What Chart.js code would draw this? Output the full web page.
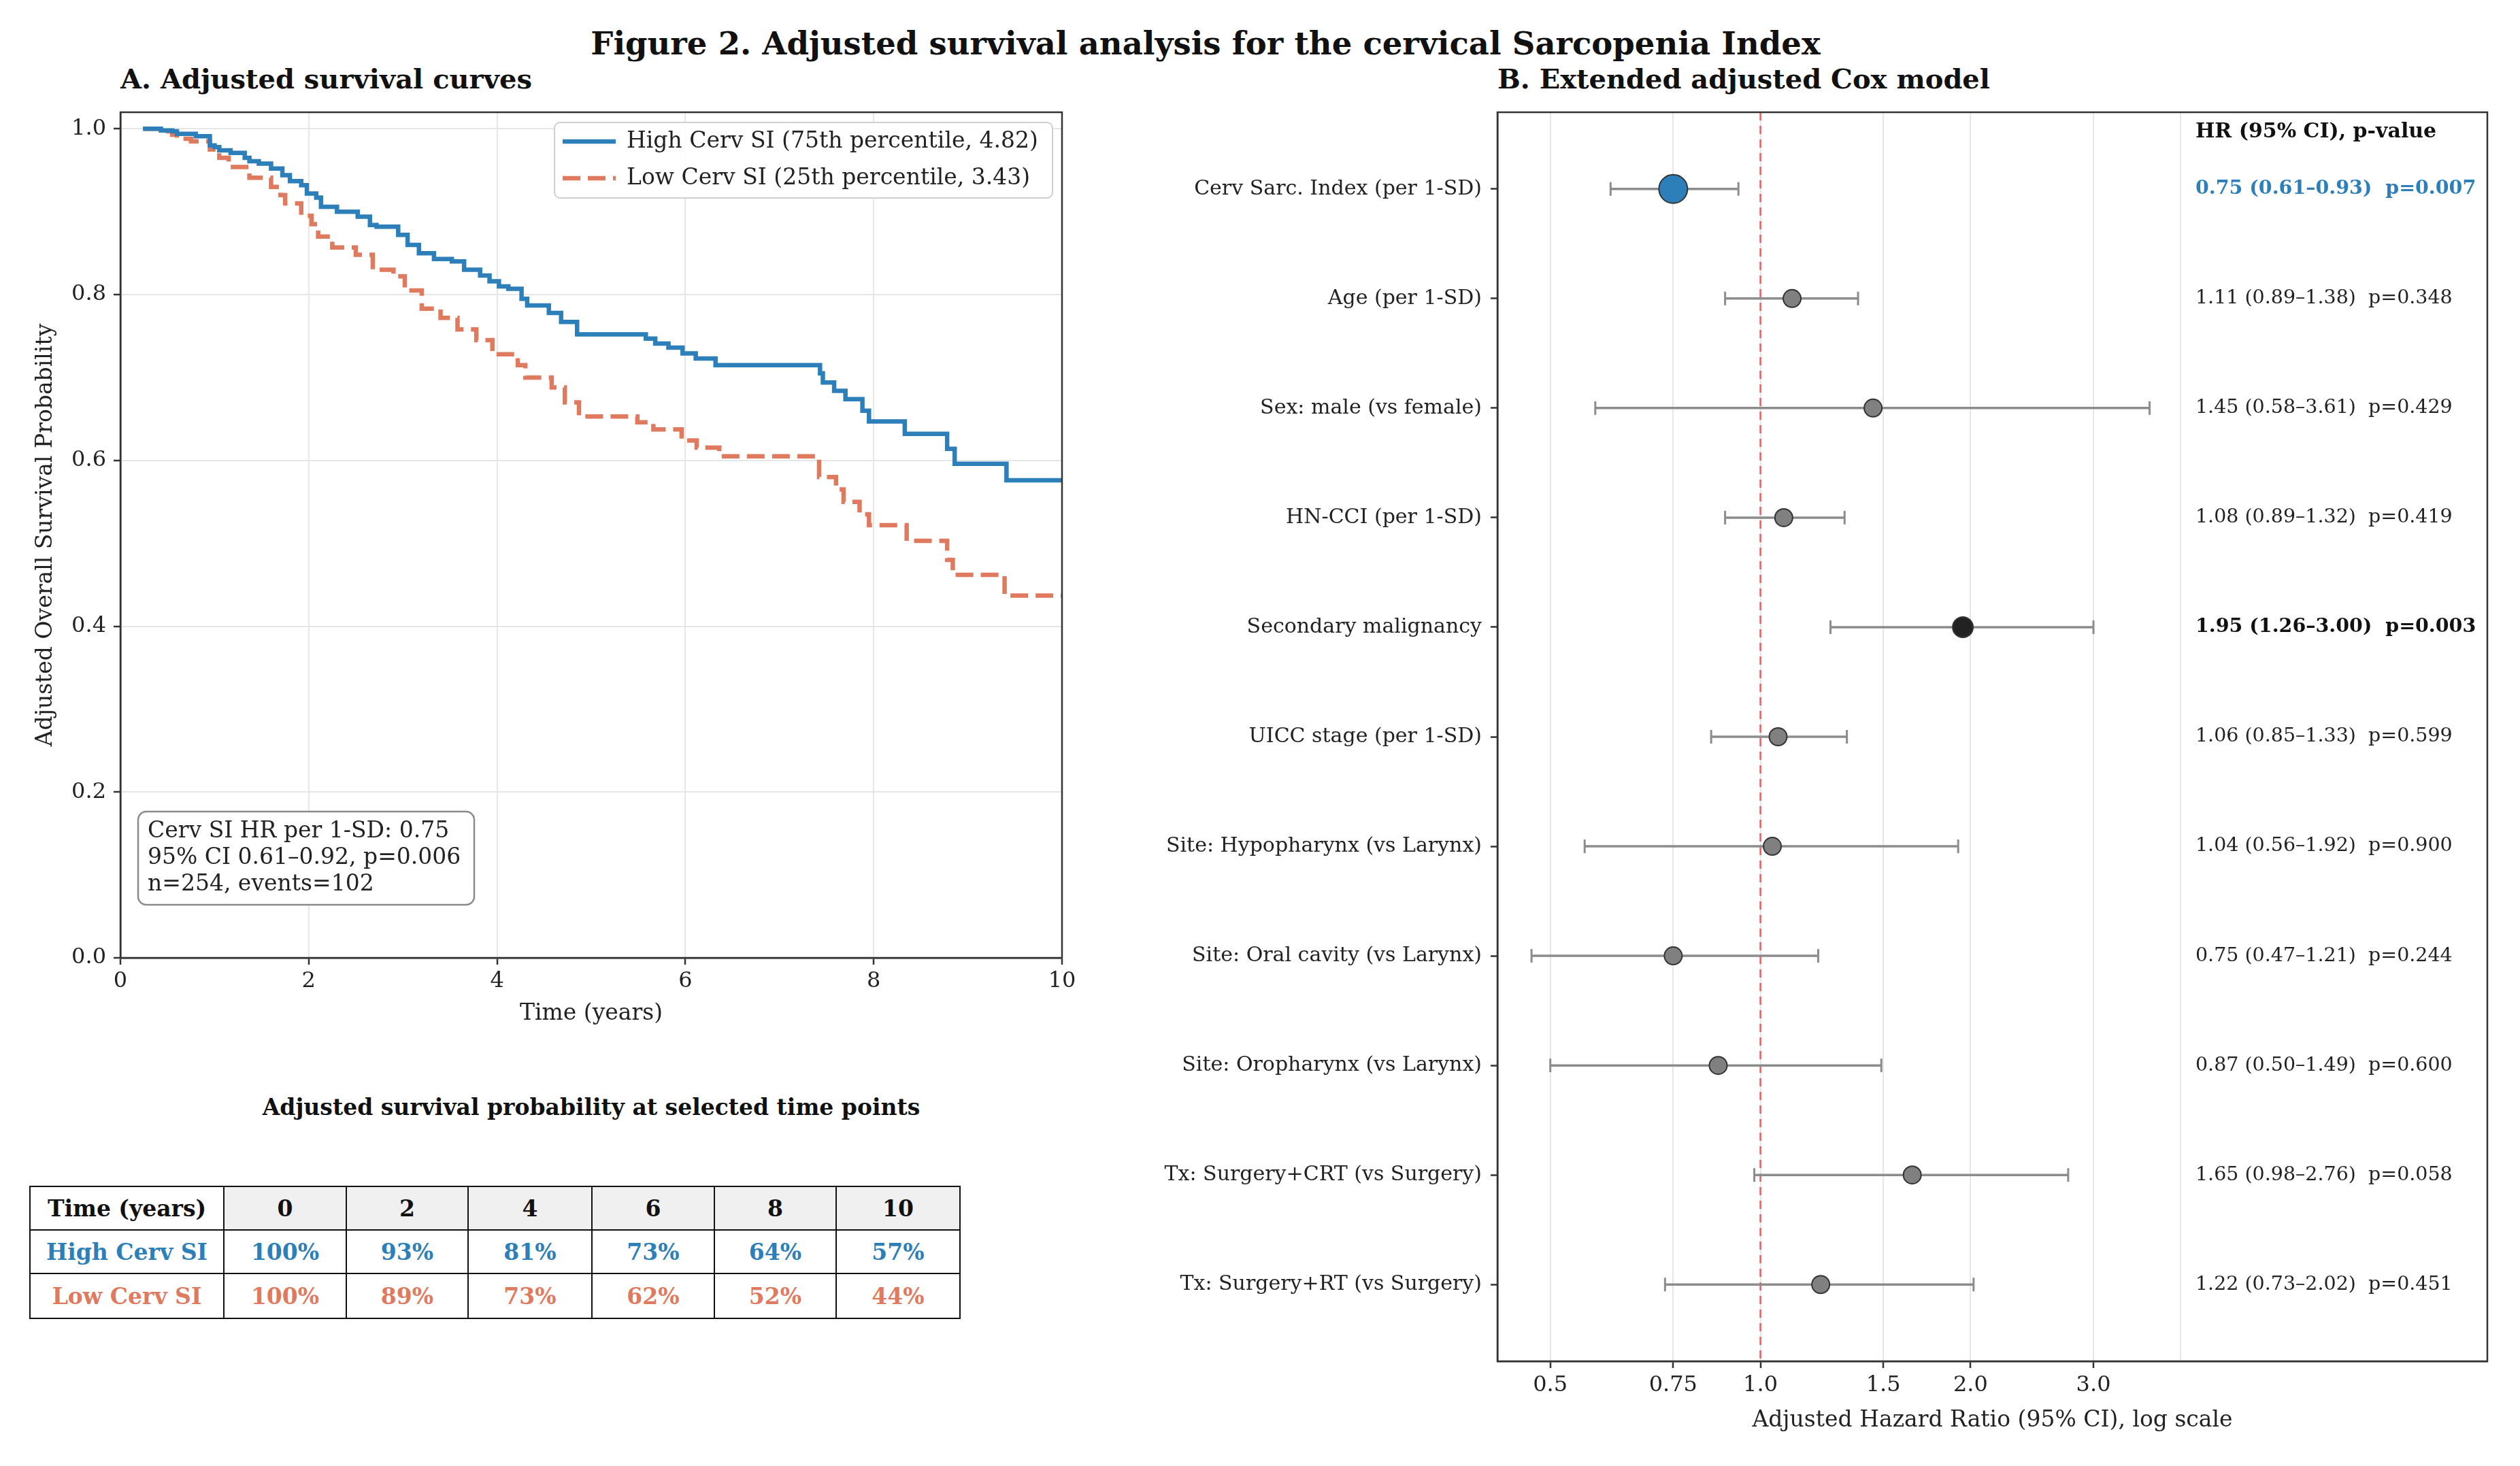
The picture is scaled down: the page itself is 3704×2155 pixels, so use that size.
<!DOCTYPE html>
<html>
<head>
<meta charset="utf-8">
<title>Figure 2</title>
<script src="https://cdn.jsdelivr.net/npm/chart.js@4.4.1/dist/chart.umd.min.js"></script>
<style>
  body { margin: 0; background: #fff; }
  #page { position: relative; width: 3704px; height: 2155px; overflow: hidden; background: #fff;
          font-family: 'DejaVu Serif', serif; color: #111; }
  .txt { position: absolute; white-space: nowrap; font-weight: bold; line-height: 1; }
  #figTitle { left: 1772px; top: 64px; font-size: 46.5px; transform: translate(-50%, -50%); }
  #titleA { left: 177px; top: 116px; font-size: 40px; transform: translateY(-50%); }
  #titleB { left: 2201px; top: 116px; font-size: 40px; transform: translateY(-50%); }
  #tableTitle { left: 869px; top: 1627px; font-size: 33px; transform: translate(-50%, -50%); }
  canvas { position: absolute; }
  #kmChart { left: 0; top: 130px; }
  #coxChart { left: 1640px; top: 130px; }
  #survTable { position: absolute; left: 43px; top: 1743px; border-collapse: collapse; table-layout: fixed;
               width: 1367px; font-family: 'DejaVu Serif', serif; font-weight: bold; font-size: 33px; }
  #survTable td { border: 2.5px solid #111; text-align: center; padding: 0; overflow: hidden; white-space: nowrap; }
  #survTable tr.head td { background: #f0f0f0; color: #111; }
  #survTable tr.head td:first-child { background: #fff; }
</style>
</head>
<body>
<div id="page">
  <div class="txt" id="figTitle">Figure 2. Adjusted survival analysis for the cervical Sarcopenia Index</div>
  <div class="txt" id="titleA">A. Adjusted survival curves</div>
  <div class="txt" id="titleB">B. Extended adjusted Cox model</div>
  <canvas id="kmChart" width="1600" height="1390"></canvas>
  <canvas id="coxChart" width="2064" height="2025"></canvas>
  <div class="txt" id="tableTitle">Adjusted survival probability at selected time points</div>
  <table id="survTable"></table>
</div>
<script>
// Panel A: adjusted survival step curves (time in years, survival probability)
var highLabel = 'High Cerv SI (75th percentile, 4.82)';
var highTimes = [0.24, 0.43, 0.55, 0.60, 0.80, 0.95, 1.00, 1.05, 1.17, 1.32, 1.37, 1.47, 1.60, 1.72, 1.80,
  1.92, 1.98, 2.08, 2.13, 2.30, 2.52, 2.65, 2.72, 2.95, 3.05, 3.17, 3.33, 3.52, 3.65, 3.82,
  3.92, 4.02, 4.12, 4.26, 4.32, 4.55, 4.68, 4.85, 5.58, 5.68, 5.82, 5.97, 6.11, 6.32, 7.43,
  7.46, 7.58, 7.70, 7.88, 7.95, 8.33, 8.78, 8.86, 9.41, 10.0];
var highSurv = [1.0, 0.998, 0.997, 0.994, 0.991, 0.980, 0.978, 0.974, 0.971, 0.965, 0.961, 0.958, 0.952, 0.944, 0.937,
  0.932, 0.922, 0.917, 0.906, 0.900, 0.894, 0.884, 0.882, 0.872, 0.860, 0.850, 0.843, 0.840, 0.830, 0.823,
  0.816, 0.810, 0.807, 0.795, 0.787, 0.778, 0.767, 0.752, 0.747, 0.741, 0.736, 0.729, 0.723, 0.715, 0.705,
  0.694, 0.684, 0.674, 0.660, 0.647, 0.632, 0.614, 0.596, 0.576, 0.576];

var lowLabel = 'Low Cerv SI (25th percentile, 3.43)';
var lowTimes = [0.24, 0.43, 0.55, 0.60, 0.75, 0.95, 1.05, 1.15, 1.37, 1.60, 1.70, 1.75, 1.92, 2.03, 2.10,
  2.25, 2.50, 2.68, 2.90, 3.02, 3.20, 3.40, 3.58, 3.78, 3.95, 4.22, 4.30, 4.58, 4.72, 4.87,
  5.49, 5.66, 5.96, 6.12, 6.36, 7.42, 7.60, 7.68, 7.85, 7.95, 8.35, 8.78, 8.84, 9.39, 10.0];
var lowSurv = [1.0, 0.997, 0.993, 0.988, 0.985, 0.975, 0.965, 0.954, 0.941, 0.930, 0.920, 0.910, 0.895, 0.885, 0.870,
  0.857, 0.848, 0.830, 0.822, 0.805, 0.783, 0.772, 0.758, 0.745, 0.728, 0.715, 0.700, 0.688, 0.670, 0.653,
  0.646, 0.6375, 0.624, 0.6155, 0.605, 0.580, 0.565, 0.550, 0.535, 0.522, 0.503, 0.480, 0.462, 0.437, 0.437];

var survTicks = [0.0, 0.2, 0.4, 0.6, 0.8, 1.0];
var annotationLines = ['Cerv SI HR per 1-SD: 0.75', '95% CI 0.61\u20130.92, p=0.006', 'n=254, events=102'];

// Table under panel A
var tableTimes = [0, 2, 4, 6, 8, 10];
var tableHigh = [100, 93, 81, 73, 64, 57];
var tableLow = [100, 89, 73, 62, 52, 44];

// Panel B: Cox model
var coxLabels = ['Cerv Sarc. Index (per 1-SD)', 'Age (per 1-SD)', 'Sex: male (vs female)', 'HN-CCI (per 1-SD)',
  'Secondary malignancy', 'UICC stage (per 1-SD)', 'Site: Hypopharynx (vs Larynx)', 'Site: Oral cavity (vs Larynx)',
  'Site: Oropharynx (vs Larynx)', 'Tx: Surgery+CRT (vs Surgery)', 'Tx: Surgery+RT (vs Surgery)'];
var coxHR = [0.75, 1.11, 1.45, 1.08, 1.95, 1.06, 1.04, 0.75, 0.87, 1.65, 1.22];
var coxLow = [0.61, 0.89, 0.58, 0.89, 1.26, 0.85, 0.56, 0.47, 0.50, 0.98, 0.73];
var coxHigh = [0.93, 1.38, 3.61, 1.32, 3.00, 1.33, 1.92, 1.21, 1.49, 2.76, 2.02];
var coxP = ['0.007', '0.348', '0.429', '0.419', '0.003', '0.599', '0.900', '0.244', '0.600', '0.058', '0.451'];
var hrGrid = [0.5, 0.75, 1, 1.5, 2, 3, 4];
var hrTickLabels = ['0.5', '0.75', '1.0', '1.5', '2.0', '3.0', ''];

var BLUE = '#2c7fb8';
var ORANGE = '#e07a5f';
var FONT = "'DejaVu Serif', serif";

Chart.defaults.font.family = FONT;
Chart.defaults.color = '#222';

// matplotlib style box around the axes
var framePlugin = {
  id: 'frame',
  afterDatasetsDraw: function(chart) {
    var a = chart.chartArea, ctx = chart.ctx;
    ctx.save();
    ctx.strokeStyle = '#333';
    ctx.lineWidth = 2.5;
    ctx.strokeRect(a.left, a.top, a.right - a.left, a.bottom - a.top);
    ctx.restore();
  }
};

var kmLegend = {
  id: 'kmLegend',
  afterDraw: function(chart) {
    var ctx = chart.ctx, a = chart.chartArea;
    var w = 732, h = 111, x = a.right - 14 - w, y = a.top + 15;
    ctx.save();
    ctx.fillStyle = 'rgba(255,255,255,0.9)';
    ctx.strokeStyle = '#cfcfcf';
    ctx.lineWidth = 2;
    ctx.beginPath();
    ctx.roundRect(x, y, w, h, 8);
    ctx.fill();
    ctx.stroke();
    chart.data.datasets.forEach(function(ds, i) {
      var ly = y + 28 + i * 54;
      ctx.strokeStyle = ds.borderColor;
      ctx.lineWidth = ds.borderWidth;
      ctx.setLineDash(ds.borderDash || []);
      ctx.beginPath();
      ctx.moveTo(x + 12, ly);
      ctx.lineTo(x + 90, ly);
      ctx.stroke();
      ctx.setLineDash([]);
      ctx.fillStyle = '#222';
      ctx.font = '33px ' + FONT;
      ctx.textBaseline = 'middle';
      ctx.fillText(ds.label, x + 106, ly);
    });
    ctx.restore();
  }
};

var kmNote = {
  id: 'kmNote',
  afterDraw: function(chart) {
    var ctx = chart.ctx, a = chart.chartArea;
    var x = a.left + 26, y = a.bottom - 215, w = 494, h = 137;
    ctx.save();
    ctx.fillStyle = '#fff';
    ctx.strokeStyle = '#8a8a8a';
    ctx.lineWidth = 2.5;
    ctx.beginPath();
    ctx.roundRect(x, y, w, h, 12);
    ctx.fill();
    ctx.stroke();
    ctx.fillStyle = '#222';
    ctx.font = '33px ' + FONT;
    ctx.textBaseline = 'middle';
    annotationLines.forEach(function(line, i) {
      ctx.fillText(line, x + 14, y + 29 + i * 39);
    });
    ctx.restore();
  }
};

function stepPoints(times, surv) {
  return times.map(function(t, i) { return { x: t, y: surv[i] }; });
}

new Chart(document.getElementById('kmChart'), {
  type: 'line',
  data: {
    datasets: [{
      label: highLabel,
      data: stepPoints(highTimes, highSurv),
      borderColor: BLUE,
      borderWidth: 6.5,
      stepped: true,
      pointRadius: 0,
      order: 0
    }, {
      label: lowLabel,
      data: stepPoints(lowTimes, lowSurv),
      borderColor: ORANGE,
      borderWidth: 6.5,
      borderDash: [26, 11],
      stepped: true,
      pointRadius: 0,
      order: 1
    }]
  },
  options: {
    animation: false,
    responsive: false,
    devicePixelRatio: 1,
    layout: { padding: { top: 35, right: 39, left: 0, bottom: 0 } },
    plugins: { legend: { display: false }, tooltip: { enabled: false } },
    scales: {
      x: {
        type: 'linear', min: 0, max: 10,
        ticks: { stepSize: 2, font: { size: 32 }, color: '#222', padding: 5 },
        grid: { color: '#e6e6e6', lineWidth: 2, tickColor: '#333', tickLength: 10, tickWidth: 2.5 },
        border: { color: '#333', width: 2.5 },
        title: { display: true, text: 'Time (years)', font: { size: 33 }, color: '#222', padding: { top: 0, bottom: 10 } },
        afterFit: function(s) { s.height = 112; }
      },
      y: {
        type: 'linear', min: 0, max: 1.02,
        afterBuildTicks: function(s) { s.ticks = survTicks.map(function(v) { return { value: v }; }); },
        ticks: { font: { size: 32 }, color: '#222', padding: 11, callback: function(v) { return v.toFixed(1); } },
        grid: { color: '#e6e6e6', lineWidth: 2, tickColor: '#333', tickLength: 10, tickWidth: 2.5 },
        border: { color: '#333', width: 2.5 },
        title: { display: true, text: 'Adjusted Overall Survival Probability', font: { size: 33 }, color: '#222', padding: { top: 48, bottom: 0 } },
        afterFit: function(s) { s.width = 177; }
      }
    }
  },
  plugins: [framePlugin, kmLegend, kmNote]
});

// Survival table
var tbl = document.getElementById('survTable');
var colW = [285, 180, 179, 182, 180, 179, 182];
var html = '<colgroup>';
colW.forEach(function(w) { html += '<col style="width:' + w + 'px">'; });
html += '</colgroup>';
html += '<tr class="head" style="height:64px"><td>Time (years)</td>';
tableTimes.forEach(function(t) { html += '<td>' + t + '</td>'; });
html += '</tr>';
html += '<tr style="height:64px;color:' + BLUE + '"><td>High Cerv SI</td>';
tableHigh.forEach(function(v) { html += '<td>' + v + '%</td>'; });
html += '</tr>';
html += '<tr style="height:66px;color:' + ORANGE + '"><td>Low Cerv SI</td>';
tableLow.forEach(function(v) { html += '<td>' + v + '%</td>'; });
html += '</tr>';
tbl.innerHTML = html;

// Panel B
var hrTextX = 4.2;
var coxText = {
  id: 'coxText',
  afterDatasetsDraw: function(chart) {
    var ctx = chart.ctx, xs = chart.scales.x, ys = chart.scales.y;
    var x = xs.getPixelForValue(hrTextX);
    ctx.save();
    ctx.textBaseline = 'middle';
    ctx.textAlign = 'left';
    ctx.fillStyle = '#111';
    ctx.font = 'bold 30px ' + FONT;
    ctx.fillText('HR (95% CI), p-value', x, ys.getPixelForValue(-0.52));
    coxHR.forEach(function(hr, i) {
      var sig = parseFloat(coxP[i]) < 0.05;
      ctx.font = (sig ? 'bold ' : '') + '28.5px ' + FONT;
      ctx.fillStyle = i === 0 ? BLUE : (sig ? '#111' : '#222');
      var s = hr.toFixed(2) + ' (' + coxLow[i].toFixed(2) + '\u2013' + coxHigh[i].toFixed(2) + ')  p=' + coxP[i];
      ctx.fillText(s, x, ys.getPixelForValue(i));
    });
    ctx.restore();
  }
};

var coxDatasets = [{
  data: coxHR.map(function(v, i) { return { x: v, y: i }; }),
  pointRadius: function(c) { return c.dataIndex === 0 ? 21 : (parseFloat(coxP[c.dataIndex]) < 0.05 ? 15 : 13); },
  pointBackgroundColor: function(c) { return c.dataIndex === 0 ? BLUE : (parseFloat(coxP[c.dataIndex]) < 0.05 ? '#222' : '#808080'); },
  pointBorderColor: '#333',
  pointBorderWidth: 2,
  order: 0
}, {
  data: [{ x: 1, y: -0.7 }, { x: 1, y: 10.7 }],
  showLine: true,
  borderColor: 'rgba(232,60,60,0.8)',
  borderWidth: 2.5,
  borderDash: [12, 8],
  pointRadius: 0,
  order: 2
}];
coxHR.forEach(function(v, i) {
  coxDatasets.push({
    data: [{ x: coxLow[i], y: i }, { x: coxHigh[i], y: i }],
    showLine: true,
    borderColor: '#8c8c8c',
    borderWidth: 3.5,
    pointStyle: 'line',
    rotation: 90,
    pointRadius: 10,
    pointBorderWidth: 3,
    pointBorderColor: '#8c8c8c',
    order: 1
  });
});

new Chart(document.getElementById('coxChart'), {
  type: 'scatter',
  data: { datasets: coxDatasets },
  options: {
    animation: false,
    responsive: false,
    devicePixelRatio: 1,
    layout: { padding: { top: 35, right: 48, left: 0, bottom: 0 } },
    plugins: { legend: { display: false }, tooltip: { enabled: false } },
    scales: {
      x: {
        type: 'logarithmic', min: 0.42, max: 11,
        afterBuildTicks: function(s) { s.ticks = hrGrid.map(function(v) { return { value: v }; }); },
        ticks: { font: { size: 32 }, color: '#222', padding: 6, autoSkip: false, maxRotation: 0,
                 callback: function(v, i) { return hrTickLabels[i]; } },
        grid: {
          color: '#e6e6e6', lineWidth: 2, tickLength: 10, tickWidth: 2.5,
          tickColor: function(c) { return c.tick && c.tick.value === 4 ? 'rgba(0,0,0,0)' : '#333'; }
        },
        border: { color: '#333', width: 2.5 },
        title: { display: true, text: 'Adjusted Hazard Ratio (95% CI), log scale', font: { size: 33 }, color: '#222', padding: { top: 0, bottom: 47 } },
        afterFit: function(s) { s.height = 154; }
      },
      y: {
        type: 'linear', min: -0.7, max: 10.7, reverse: true,
        afterBuildTicks: function(s) { s.ticks = coxLabels.map(function(l, i) { return { value: i }; }); },
        ticks: { font: { size: 30 }, color: '#222', padding: 13, autoSkip: false,
                 callback: function(v) { return coxLabels[v]; } },
        grid: { drawOnChartArea: false, tickColor: '#333', tickLength: 10, tickWidth: 2.5 },
        border: { color: '#333', width: 2.5 },
        afterFit: function(s) { s.width = 561; }
      }
    }
  },
  plugins: [framePlugin, coxText]
});
</script>
</body>
</html>
